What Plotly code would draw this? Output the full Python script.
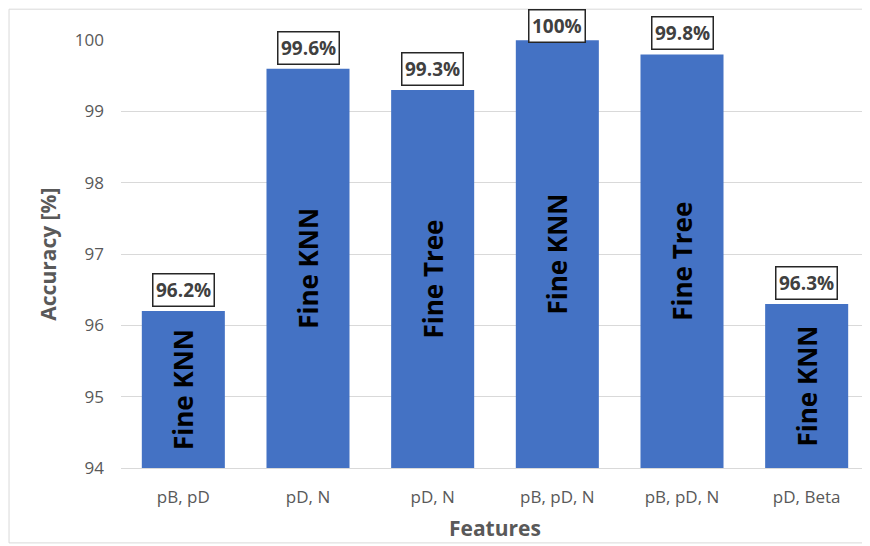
import plotly.graph_objects as go

categories = ["pB, pD", "pD, N", "pD, N", "pB, pD, N", "pB, pD, N", "pD, Beta"]
accuracy = [96.2, 99.6, 99.3, 100.0, 99.8, 96.3]
classifiers = ["Fine KNN", "Fine KNN", "Fine Tree", "Fine KNN", "Fine Tree", "Fine KNN"]
value_labels = ["96.2%", "99.6%", "99.3%", "100%", "99.8%", "96.3%"]
y_ticks = [94, 95, 96, 97, 98, 99, 100]

x_idx = list(range(len(categories)))

FONT = "Open Sans"
GRAY = "#595959"
BAR = "#4472C4"

fig = go.Figure()
fig.add_trace(go.Bar(
    x=x_idx,
    y=[v - 94 for v in accuracy],
    base=94,
    marker=dict(color=BAR, line=dict(width=0)),
    text=classifiers,
    textposition="inside",
    insidetextanchor="middle",
    textangle=-90,
    insidetextfont=dict(family=FONT, size=26, color="#000000", weight="bold"),
    hoverinfo="skip",
    showlegend=False,
))

annotations = []
for i, (v, lab) in enumerate(zip(accuracy, value_labels)):
    annotations.append(dict(
        x=i, y=v, xref="x", yref="y",
        text=lab, showarrow=False,
        yanchor="bottom", yshift=(4 if v < 100 else -3),
        font=dict(family=FONT, size=19, color="#404040", weight="bold"),
        bgcolor="#FFFFFF", bordercolor="#262626", borderwidth=1.5, borderpad=2.5,
    ))

annotations.append(dict(
    x=-0.098, y=0.5, xref="paper", yref="paper",
    text="Accuracy [%]", textangle=-90, showarrow=False,
    xanchor="center", yanchor="middle",
    font=dict(family=FONT, size=21, color=GRAY, weight="bold"),
))
annotations.append(dict(
    x=0.5, y=-0.14, xref="paper", yref="paper",
    text="Features", showarrow=False,
    xanchor="center", yanchor="middle",
    font=dict(family=FONT, size=21, color=GRAY, weight="bold"),
))

fig.update_layout(
    width=862, height=538,
    margin=dict(l=113, r=1, t=32, b=78),
    paper_bgcolor="#FFFFFF",
    plot_bgcolor="#FFFFFF",
    bargap=0.334,
    annotations=annotations,
    shapes=[dict(
        type="rect", xref="paper", yref="paper",
        x0=-0.1497, x1=1.02, y0=-0.175, y1=1.072,
        line=dict(color="#D9D9D9", width=1), fillcolor="rgba(0,0,0,0)", layer="below",
    )],
    xaxis=dict(
        tickmode="array", tickvals=x_idx, ticktext=categories,
        range=[-0.5, len(categories) - 0.5],
        showgrid=False, zeroline=False,
        showline=True, linecolor="#D9D9D9", linewidth=1,
        ticks="", ticklabelstandoff=14,
        tickfont=dict(family=FONT, size=17, color=GRAY),
    ),
    yaxis=dict(
        range=[94, 100.002],
        tickmode="array", tickvals=y_ticks,
        showgrid=True, gridcolor="#D9D9D9", gridwidth=1,
        zeroline=False, showline=False,
        ticks="", ticklabelstandoff=16,
        tickfont=dict(family=FONT, size=17, color=GRAY),
    ),
)

fig.write_html("out.html")
